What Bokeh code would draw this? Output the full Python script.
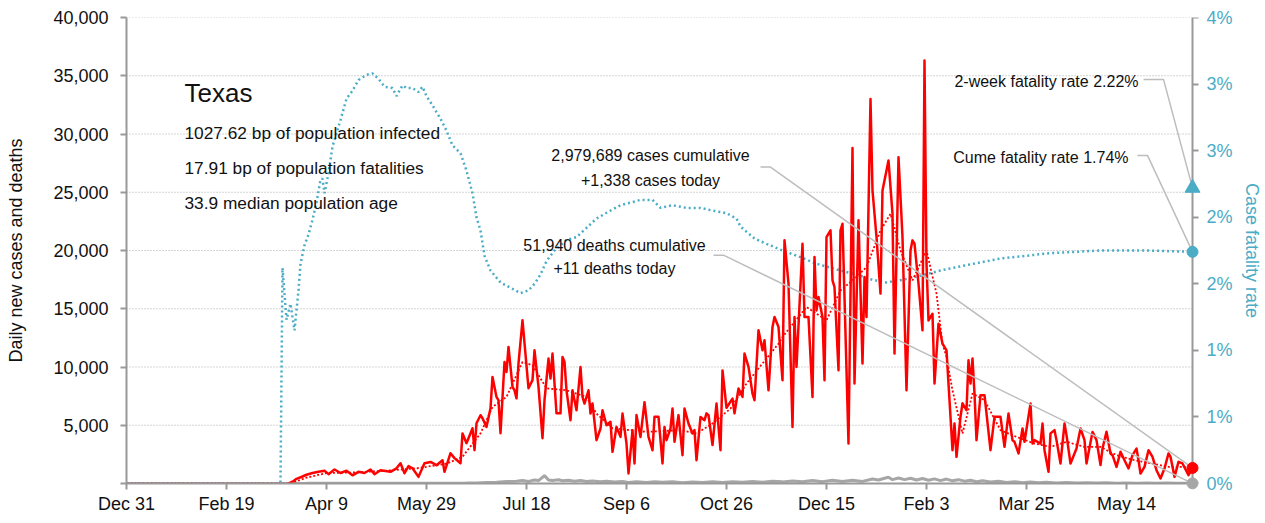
import pandas as pd
from bokeh.plotting import figure
from bokeh.models import (Range1d, LinearAxis, FixedTicker, CustomJSTickFormatter,
                          NumeralTickFormatter, Label)
from bokeh.embed import file_html
from bokeh.resources import INLINE

# ---------------- data ----------------
START = pd.Timestamp("2019-12-31")
LAST_DAY = 533  # days after START of the last observation

case_day = [81, 83, 85, 88, 90, 93, 96, 99, 101, 104, 107, 110, 113, 116, 119, 122, 124, 127,
            132, 135, 137, 139, 141, 143, 146, 149, 152, 155, 158, 159, 162, 164, 167, 168, 170,
            173, 174, 175, 177, 178, 180, 182, 183, 185, 186, 187, 189, 190, 191, 193, 194, 195,
            196, 198, 201, 203, 204, 206, 208, 209, 211, 212, 213, 215, 217, 218, 219, 220, 222,
            223, 225, 227, 228, 229, 231, 232, 233, 235, 237, 238, 240, 242, 243, 245, 247, 248,
            250, 251, 253, 254, 255, 257, 259, 261, 263, 264, 266, 268, 269, 270, 272, 273, 274,
            276, 278, 279, 281, 283, 284, 285, 287, 289, 290, 291, 293, 295, 297, 298, 300, 303,
            304, 306, 308, 309, 311, 313, 314, 316, 318, 319, 321, 323, 324, 326, 328, 329, 331,
            333, 334, 335, 338, 339, 341, 343, 344, 345, 346, 348, 349, 350, 352, 353, 354, 356,
            357, 358, 361, 363, 364, 366, 368, 369, 370, 372, 373, 375, 377, 378, 381, 383, 384,
            386, 388, 390, 392, 393, 394, 396, 398, 399, 400, 401, 403, 404, 406, 408, 410, 413,
            414, 415, 417, 418, 420, 421, 422, 423, 424, 425, 427, 429, 432, 434, 437, 439, 441,
            443, 444, 446, 448, 449, 452, 453, 454, 457, 458, 459, 461, 462, 464, 465, 467, 469,
            470, 472, 475, 477, 479, 480, 483, 485, 487, 488, 490, 492, 493, 495, 497, 499, 501,
            503, 505, 506, 507, 509, 511, 513, 515, 517, 519, 521, 522, 524, 526, 528, 531, 533]
case_val = [0, 150, 400, 600, 750, 900, 1000, 1100, 800, 1200, 900, 1100, 700, 1000, 900, 1200, 800, 1140,
            1000, 1300, 1740, 880, 1500, 1310, 570, 1740, 1850, 1570, 2000, 1000, 2600, 2180, 1740, 4300, 3460,
            4740, 2860, 5170, 5860, 5600, 4860, 6450, 9150, 7430, 7140, 4310, 10430, 9570, 11720, 8290, 8000, 7310,
            10310, 14010, 8170, 8870, 11430, 8290, 3890, 7150, 10720, 9010, 11150, 6020, 6020, 10860, 10430, 8000, 5430,
            8000, 6290, 10000, 7430, 6860, 8000, 6000, 6860, 3720, 4720, 6290, 5000, 5300, 2720, 4860, 4000, 6000,
            3430, 860, 4570, 1720, 5870, 4000, 6980, 4000, 2860, 5720, 5720, 1720, 4860, 3720, 4720, 6430, 3580,
            5870, 2430, 6430, 5150, 4290, 4580, 2000, 5710, 5430, 6020, 5870, 3300, 6860, 2860, 9700, 6500, 7290,
            6020, 8150, 7440, 11150, 10010, 7720, 7150, 13150, 11430, 12290, 8000, 13440, 14290, 13440, 8870, 20870, 17160,
            4860, 14290, 10010, 20580, 14290, 14290, 7430, 19440, 14860, 16000, 14290, 8870, 21150, 21730, 17440, 16860, 9720,
            21720, 22290, 3430, 28800, 8580, 22600, 10300, 17720, 14290, 33000, 25150, 21150, 16300, 25150, 27730, 23150, 11150,
            28000, 21150, 8000, 20000, 20870, 20580, 17150, 13150, 36300, 18870, 14000, 14570, 8580, 13720, 12000, 11430, 2860,
            5150, 2290, 5730, 6880, 6290, 10580, 8580, 10720, 7720, 3720, 7580, 7580, 2860, 5720, 5720, 3150, 6000,
            3720, 3580, 2580, 4720, 3580, 6860, 3430, 3720, 3430, 5150, 2860, 1000, 4300, 4580, 3720, 1720, 5150,
            4150, 1720, 3000, 4720, 3720, 1720, 4430, 3720, 1580, 3000, 4440, 2580, 2430, 1430, 2720, 2000, 1290,
            2430, 3000, 2000, 860, 1430, 2860, 2290, 1140, 430, 1290, 2580, 2290, 570, 1860, 1720, 720, 1338]

avg_day = [0, 82, 90, 100, 115, 130, 145, 160, 168, 177, 183, 190, 198, 203, 210, 220, 230, 235, 243,
           260, 277, 285, 293, 302, 310, 318, 326, 328, 340, 350, 357, 365, 370, 377, 382, 387, 393,
           400, 405, 408, 410, 413, 418, 423, 429, 437, 445, 454, 462, 470, 479, 487, 495, 504, 512,
           521, 529, 533]
avg_val = [0, 0, 500, 900, 950, 1100, 1300, 1700, 2290, 4300, 6570, 7430, 10430, 10150, 8170, 8000, 7430, 6000, 4740,
           4430, 4580, 4290, 5150, 6430, 8580, 10300, 12000, 12580, 15150, 14000, 16570, 17720, 18580, 21720, 23150, 20000, 17440,
           20000, 16300, 12000, 10860, 8000, 4290, 7720, 7150, 4580, 4000, 3430, 3140, 3580, 3140, 3140, 2430, 2000, 1740,
           1430, 1430, 1290]

cfr_day = [0, 77, 78, 80, 82, 84, 86, 87, 89, 91, 93, 95, 97, 98, 99, 101, 103, 107, 110, 113, 116, 120,
           123, 126, 129, 133, 135, 138, 140, 143, 146, 148, 150, 153, 157, 160, 163, 167, 170, 173, 175,
           177, 179, 182, 187, 192, 197, 201, 204, 207, 210, 214, 220, 225, 230, 235, 242, 247, 252, 257,
           263, 267, 273, 280, 287, 293, 300, 305, 307, 314, 320, 328, 337, 345, 357, 367, 373, 380, 388,
           397, 402, 407, 420, 437, 462, 487, 510, 533]
cfr_pct = [0, 0, 1.62, 1.23, 1.35, 1.15, 1.45, 1.65, 1.79, 1.87, 1.98, 2.11, 2.28, 2.29, 2.18, 2.33, 2.53, 2.73,
           2.89, 2.95, 3.03, 3.07, 3.08, 3.04, 2.98, 2.97, 2.91, 2.99, 2.97, 2.97, 2.94, 2.98, 2.91, 2.84, 2.74,
           2.65, 2.54, 2.48, 2.35, 2.18, 2.0, 1.90, 1.71, 1.60, 1.51, 1.47, 1.43, 1.45, 1.50, 1.57, 1.67, 1.75,
           1.83, 1.85, 1.92, 1.99, 2.05, 2.09, 2.11, 2.13, 2.13, 2.07, 2.09, 2.07, 2.07, 2.05, 2.03, 1.99, 1.93,
           1.84, 1.80, 1.75, 1.70, 1.65, 1.60, 1.56, 1.53, 1.51, 1.53, 1.56, 1.58, 1.60, 1.64, 1.69, 1.73, 1.75,
           1.75, 1.74]

death_day = [0, 75, 90, 100, 110, 120, 130, 140, 150, 160, 170, 175, 180, 185, 190, 195, 198, 201, 204,
             206, 209, 211, 213, 216, 218, 221, 224, 227, 230, 233, 237, 240, 244, 248, 251, 255, 260, 264,
             268, 273, 278, 283, 288, 293, 298, 303, 308, 313, 318, 323, 328, 333, 338, 343, 348, 353, 358,
             363, 368, 373, 376, 379, 381, 383, 386, 389, 392, 395, 398, 401, 404, 407, 410, 413, 416, 419,
             422, 425, 428, 432, 436, 440, 444, 448, 452, 456, 460, 465, 470, 475, 480, 485, 490, 495, 500,
             505, 510, 515, 520, 525, 530, 533]
death_val = [0, 0, 15, 30, 25, 30, 25, 20, 20, 20, 35, 50, 90, 110, 170, 200, 250, 170, 300,
             250, 675, 300, 250, 320, 230, 280, 200, 260, 180, 220, 150, 200, 120, 180, 90, 150, 80, 140,
             100, 150, 70, 120, 90, 140, 80, 150, 100, 170, 110, 200, 140, 220, 150, 250, 160, 270, 170,
             280, 180, 380, 300, 450, 540, 330, 470, 330, 450, 300, 430, 280, 400, 250, 380, 230, 330, 200,
             280, 150, 240, 120, 200, 90, 160, 70, 130, 60, 100, 50, 80, 40, 70, 35, 60, 30, 50,
             25, 40, 25, 35, 20, 30, 11]

cum_cases = 2979689
cum_deaths = 51940
two_week_rate = 2.22
cume_rate = 1.74

x_tick_days = [0, 50, 100, 150, 200, 250, 300, 350, 400, 450, 500]
left_ticks = [0, 5000, 10000, 15000, 20000, 25000, 30000, 35000, 40000]
right_ticks = [0, 0.5, 1.0, 1.5, 2.0, 2.5, 3.0, 3.5]

info_lines = ["1027.62 bp of population infected",
              "17.91 bp of population fatalities",
              "33.9 median population age"]

# ---------------- helpers ----------------
EPOCH = pd.Timestamp("1970-01-01")


def ms(day):
    return (START + pd.Timedelta(days=day) - EPOCH) / pd.Timedelta(milliseconds=1)


def dts(days):
    return [START + pd.Timedelta(days=d) for d in days]


FONT = "Liberation Sans"
RED = "#ff0000"
BLUE = "#4bacc6"
GRAY = "#a6a6a6"
AXIS = "#999999"
LEAD = "#bdbdbd"
INK = "#111111"
PAD_DAYS = 4  # room right of the last day so the end markers are not clipped

p = figure(width=1265, height=523, x_axis_type="datetime",
           x_range=Range1d(ms(0), ms(LAST_DAY + PAD_DAYS)), y_range=Range1d(0, 40000),
           output_backend="svg", toolbar_location=None,
           min_border_left=126, min_border_right=65, min_border_top=17, min_border_bottom=40)
p.extra_y_ranges = {"cfr": Range1d(0, 3.5)}
p.outline_line_color = None
p.title.visible = False

# axes
xa = p.xaxis[0]
xa.ticker = FixedTicker(ticks=[ms(d) for d in x_tick_days])
xa.formatter = CustomJSTickFormatter(code="""
const m = ["Jan","Feb","Mar","Apr","May","Jun","Jul","Aug","Sep","Oct","Nov","Dec"];
const d = new Date(tick);
return m[d.getUTCMonth()] + " " + d.getUTCDate();
""")
xa.bounds = (ms(0), ms(LAST_DAY))
ya = p.yaxis[0]
ya.ticker = FixedTicker(ticks=left_ticks)
ya.formatter = NumeralTickFormatter(format="0,0")
ya.major_label_overrides = {0: ""}
ya.axis_label = "Daily new cases and deaths"

# right value axis: line + ticks at the last day, labels in the side panel
ra_line = LinearAxis(y_range_name="cfr", ticker=FixedTicker(ticks=right_ticks),
                     fixed_location=ms(LAST_DAY), major_label_text_font_size="0px",
                     major_label_text_color=None, major_label_standoff=0)
p.add_layout(ra_line, "right")
ra = LinearAxis(y_range_name="cfr", ticker=FixedTicker(ticks=right_ticks),
                formatter=CustomJSTickFormatter(code="return Math.round(tick) + '%';"),
                axis_label="Case fatality rate")
p.add_layout(ra, "right")

for ax in (xa, ya, ra, ra_line):
    ax.axis_line_color = AXIS
    ax.axis_line_width = 2
    ax.major_tick_line_color = AXIS
    ax.major_tick_line_width = 2
    ax.major_tick_out = 6
    ax.major_tick_in = 0
    ax.minor_tick_line_color = None
    ax.major_label_text_font = FONT
    ax.axis_label_text_font = FONT
    ax.axis_label_text_font_size = "18px"
    ax.axis_label_text_font_style = "normal"
    ax.axis_label_text_color = INK
for ax in (xa, ya, ra):
    ax.major_label_text_font_size = "18px"
    ax.major_label_text_color = INK
xa.major_label_standoff = 4
ya.major_label_standoff = 12
ya.axis_label_standoff = 24
ra.axis_line_color = None
ra.major_tick_line_color = None
ra.major_tick_out = 0
ra.major_label_standoff = 6
ra.axis_label_standoff = 6
ra.major_label_text_color = BLUE
ra.axis_label_text_color = BLUE

# horizontal dotted grid lines, only between the two value axes
p.xgrid.visible = False
p.ygrid.visible = False
grid_vals = [t for t in left_ticks if t > 0]
p.multi_line(xs=[dts([0, LAST_DAY]) for _ in grid_vals], ys=[[t, t] for t in grid_vals],
             line_color="#aaaaaa", line_dash="1 2", line_width=1, level="underlay")

# series
p.line(dts(death_day), death_val, line_color=GRAY, line_width=3)
p.line(dts(cfr_day), cfr_pct, y_range_name="cfr", line_color=BLUE, line_width=2.5, line_dash="2 3")
p.line(dts(case_day), case_val, line_color=RED, line_width=2.5, line_join="round")
p.line(dts(avg_day), avg_val, line_color=RED, line_width=1.8, line_dash="2 2")

# leader lines
p.line(dts([317, 322, LAST_DAY]), [27160, 27160, case_val[-1]], line_color=LEAD, line_width=1.5)
p.line(dts([293.5, 298.5, LAST_DAY]), [19600, 19600, death_val[-1]], line_color=LEAD, line_width=1.5)
p.line(dts([508.5, 518.5, LAST_DAY]), [3.035, 3.035, two_week_rate], y_range_name="cfr",
       line_color=LEAD, line_width=1.5)
p.line(dts([505.5, 510.5, LAST_DAY]), [2.464, 2.464, cume_rate], y_range_name="cfr",
       line_color=LEAD, line_width=1.5)

# end markers
p.scatter(dts([LAST_DAY]), [case_val[-1]], size=11, color=RED, level="overlay")
p.scatter(dts([LAST_DAY]), [death_val[-1]], size=11, color=GRAY, level="overlay")
p.scatter(dts([LAST_DAY]), [two_week_rate], y_range_name="cfr", marker="triangle", size=15,
          color=BLUE, level="overlay")
p.scatter(dts([LAST_DAY]), [cume_rate], y_range_name="cfr", size=11, color=BLUE, level="overlay")


def label(day, yv, text, size="16px", align="left", rng="default", color=INK):
    p.add_layout(Label(x=ms(day), y=yv, text=text, text_font=FONT, text_font_size=size,
                       text_align=align, text_baseline="middle", text_color=color,
                       y_range_name=rng))


label(29, 33560, "Texas", size="26px")
for i, t in enumerate(info_lines):
    label(29, 30110 - i * 3000, t, size="17.3px")

label(262, 28160, f"{cum_cases:,} cases cumulative", align="center")
label(262, 26010, f"+{case_val[-1]:,} cases today", align="center")
label(244, 20440, f"{cum_deaths:,} deaths cumulative", align="center")
label(244, 18470, f"+{death_val[-1]:,} deaths today", align="center")
label(506, 34510, f"2-week fatality rate {two_week_rate:.2f}%", align="right")
label(501, 27990, f"Cume fatality rate {cume_rate:.2f}%", align="right")

open("out.html", "w").write(file_html(p, INLINE))
